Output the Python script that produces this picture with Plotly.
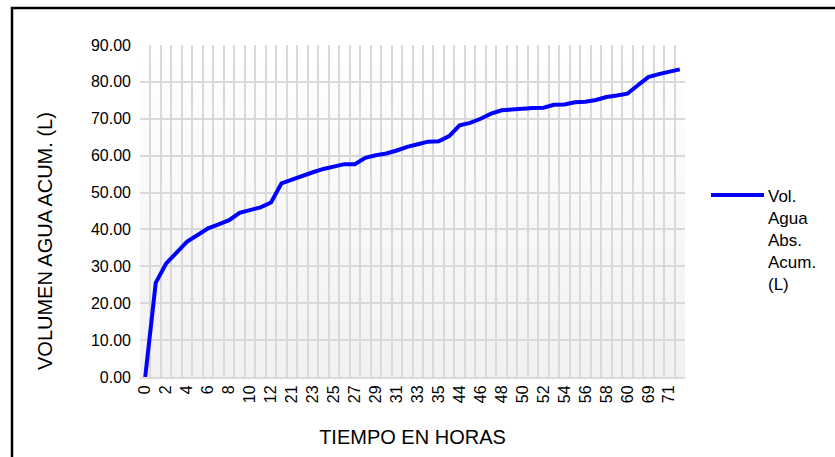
import plotly.graph_objects as go

# ---- data ----
hours = [0, 1, 2, 3, 4, 5, 6, 7, 8, 9, 10, 11, 12,
         20, 21, 22, 23, 24, 25, 26, 27, 28, 29, 30, 31, 32, 33, 34, 35,
         36, 44, 45, 46, 47, 48, 49, 50, 51, 52, 53, 54, 55, 56, 57, 58, 59, 60,
         68, 69, 70, 71, 72]
volume = [0.0, 25.5, 30.8, 33.9, 36.7, 38.5, 40.3, 41.4, 42.5, 44.5, 45.2, 46.0, 47.3,
          52.5, 53.5, 54.6, 55.5, 56.4, 57.1, 57.7, 57.7, 59.4, 60.1, 60.6, 61.4, 62.4, 63.1, 63.8, 63.9,
          65.3, 68.2, 68.9, 70.0, 71.4, 72.3, 72.6, 72.7, 72.9, 73.0, 73.8, 73.9, 74.5, 74.6, 75.1, 75.9, 76.3, 76.8,
          79.1, 81.3, 82.1, 82.8, 83.4]
series_name = "Vol.<br>Agua<br>Abs.<br>Acum.<br>(L)"
x_title = "TIEMPO EN HORAS"
y_title = "VOLUMEN AGUA ACUM. (L)"

idx = list(range(len(hours)))
FONT = "Liberation Sans, Arial, sans-serif"
BLUE = "#0000FF"

# plot-area geometry in pixels (used to convert to paper coords)
L, R, T, B, W, H = 140, 150, 45, 80, 835, 457
PW, PH = W - L - R, H - T - B


def px_x(p):
    return (p - L) / PW


def px_y(p):
    return (H - B - p) / PH


fig = go.Figure()
fig.add_trace(go.Scatter(
    x=idx, y=volume, mode="lines", name=series_name,
    line=dict(color=BLUE, width=4), showlegend=False,
))

shapes = []
# gradient plot background (white top -> light grey bottom)
n_bands = 40
for b in range(n_bands):
    t = b / (n_bands - 1)
    c = int(round(255 - (255 - 241) * (1 - t)))
    shapes.append(dict(type="rect", xref="x domain", yref="y domain",
                       x0=0, x1=1, y0=b / n_bands, y1=(b + 1) / n_bands,
                       fillcolor=f"rgb({c},{c},{c})", line=dict(width=0), layer="below"))
# outer chart frame
shapes.append(dict(type="rect", xref="paper", yref="paper",
                   x0=px_x(12), x1=px_x(845), y0=px_y(470), y1=px_y(8),
                   line=dict(color="black", width=2.5), fillcolor="rgba(0,0,0,0)", layer="above"))
# legend sample line
shapes.append(dict(type="line", xref="paper", yref="paper",
                   x0=px_x(711), x1=px_x(764), y0=px_y(195), y1=px_y(195),
                   line=dict(color=BLUE, width=4), layer="above"))

annotations = [
    # legend text
    dict(text=series_name, xref="paper", yref="paper", x=px_x(766), y=px_y(240),
         xanchor="left", yanchor="middle", align="left", showarrow=False,
         font=dict(size=17, family=FONT, color="#000")),
    # y-axis title
    dict(text=y_title, xref="paper", yref="paper", x=px_x(45), y=px_y(241),
         xanchor="center", yanchor="middle", textangle=-90, showarrow=False,
         font=dict(size=20, family=FONT, color="#000")),
]

fig.update_layout(
    width=W, height=H,
    margin=dict(l=L, r=R, t=T, b=B, autoexpand=False),
    paper_bgcolor="white", plot_bgcolor="white",
    font=dict(family=FONT, size=16, color="#000000"),
    shapes=shapes, annotations=annotations,
    showlegend=False,
)
fig.update_xaxes(
    range=[-0.5, len(hours) - 0.5],
    tickmode="array", tickvals=idx[::2], ticktext=[str(h) for h in hours[::2]],
    tickangle=-90, ticks="", showgrid=False, zeroline=False,
    showline=True, linecolor="#d9d9d9", linewidth=2,
    tickfont=dict(size=16),
    minor=dict(tickmode="linear", tick0=-0.5, dtick=1, showgrid=True,
               gridcolor="#d9d9d9", gridwidth=2, ticks=""),
    title=dict(text=x_title, font=dict(size=20), standoff=28),
)
fig.update_yaxes(
    range=[0, 90], dtick=10, tickformat=".2f", ticks="",
    showgrid=True, gridcolor="#d9d9d9", gridwidth=2, zeroline=False,
    tickfont=dict(size=16), ticklabelstandoff=8,
)

fig.write_html("out.html", config={"displayModeBar": False},
               post_script="document.body.style.margin='0';")
